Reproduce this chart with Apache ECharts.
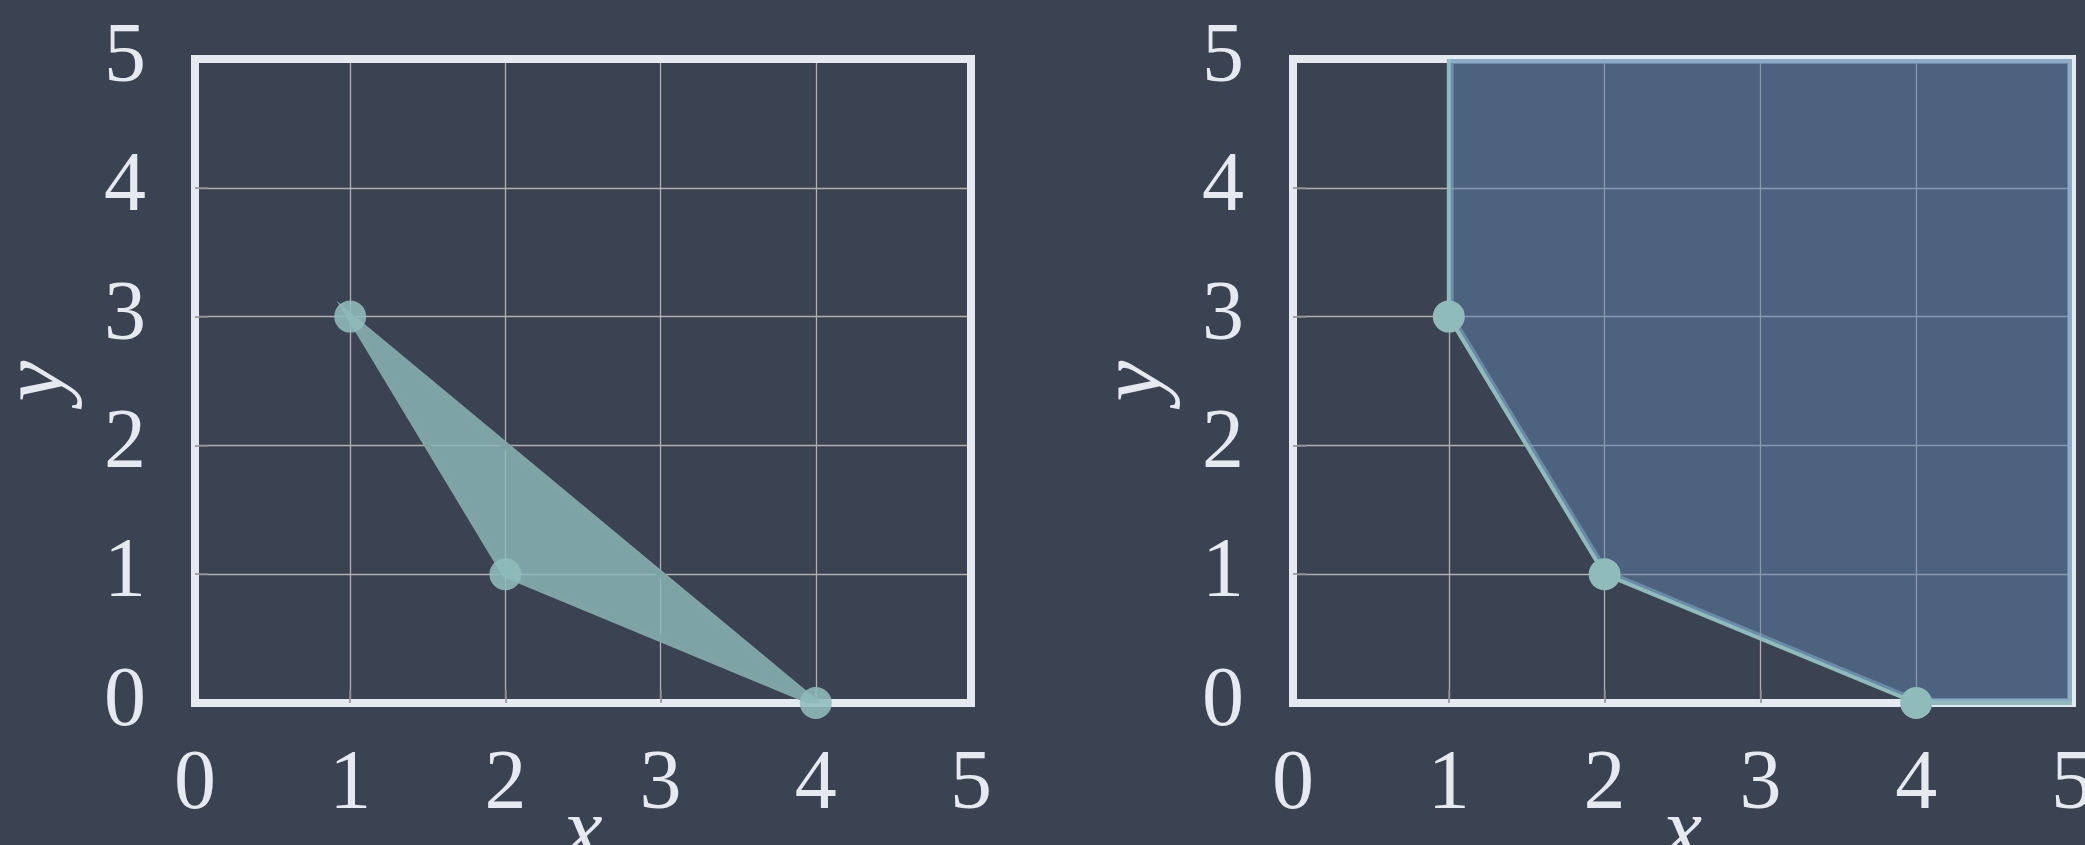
<!DOCTYPE html>
<html>
<head>
<meta charset="utf-8">
<script src="https://cdn.jsdelivr.net/npm/echarts@6/dist/echarts.min.js"></script>
<style>
html,body{margin:0;padding:0;background:#3b4252;}
#chart{width:2085px;height:845px;}
</style>
</head>
<body>
<div id="chart"></div>
<script>
// ---- data ----
const axisMin = 0;
const axisMax = 5;
const tickStep = 1;
const innerTicks = [1, 2, 3, 4];
const xAxisName = 'x';
const yAxisName = 'y';
// left panel: filled triangle through the three points
const leftPolyX = [1, 2, 4];
const leftPolyY = [3, 1, 0];
// points (both panels)
const pointX = [1, 2, 4];
const pointY = [3, 1, 0];
// right panel: feasible region (upper-right of the hull)
const regionX = [1, 1, 2, 4, 5, 5];
const regionY = [5, 3, 1, 0, 0, 5];
// right panel: boundary line
const boundaryX = [1, 1, 2, 4, 5];
const boundaryY = [5, 3, 1, 0, 0];

// ---- style ----
const BG = '#3b4252';
const FRAME = '#e5e9f0';
const GRIDC = '#b0b0b0';
const TEAL = '#8fbcbb';
const FONT = 'Liberation Serif';

const pairs = (xs, ys) => xs.map((x, i) => [x, ys[i]]);

function frameAxis(kind, gridIndex, position) {
  return {
    type: 'value', gridIndex, position, min: axisMin, max: axisMax, interval: tickStep,
    axisLine: { show: true, onZero: false, lineStyle: { color: FRAME, width: 8, cap: 'square' } },
    axisTick: { show: false }, axisLabel: { show: false }, splitLine: { show: false }
  };
}
function mainX(gridIndex) {
  return {
    type: 'value', gridIndex, position: 'bottom', min: axisMin, max: axisMax, interval: tickStep,
    name: xAxisName, nameLocation: 'middle', nameGap: 88, nameMoveOverlap: false,
    nameTextStyle: { fontFamily: FONT, fontStyle: 'italic', fontSize: 88, color: FRAME, verticalAlign: 'top' },
    axisLine: { show: true, onZero: false, lineStyle: { color: FRAME, width: 8, cap: 'square' } },
    axisTick: { show: true, inside: true, length: 13, customValues: innerTicks, lineStyle: { color: '#8a8a8a', width: 1.5 } },
    axisLabel: { show: true, margin: 41, fontFamily: FONT, fontSize: 84, color: FRAME },
    splitLine: { show: true, lineStyle: { color: GRIDC, width: 1.3 } }
  };
}
function mainY(gridIndex) {
  return {
    type: 'value', gridIndex, position: 'left', min: axisMin, max: axisMax, interval: tickStep,
    name: yAxisName, nameLocation: 'middle', nameGap: 110, nameMoveOverlap: false,
    nameTextStyle: { fontFamily: FONT, fontStyle: 'italic', fontSize: 92, color: FRAME },
    axisLine: { show: true, onZero: false, lineStyle: { color: FRAME, width: 8, cap: 'square' } },
    axisTick: { show: true, inside: true, length: 13, customValues: innerTicks, lineStyle: { color: '#8a8a8a', width: 1.5 } },
    axisLabel: { show: true, margin: 49, fontFamily: FONT, fontSize: 84, color: FRAME },
    splitLine: { show: true, lineStyle: { color: GRIDC, width: 1.3 } }
  };
}

function polygonSeries(name, xi, yi, xs, ys, fillStyle, innerStroke, clip) {
  return {
    type: 'custom', name, xAxisIndex: xi, yAxisIndex: yi, z: 2, clip: !!clip,
    data: pairs(xs, ys),
    encode: { x: 0, y: 1 },
    renderItem: function (params, api) {
      if (params.dataIndex !== 0) return null;
      const pts = xs.map((x, i) => api.coord([x, ys[i]]));
      const children = [{ type: 'polygon', shape: { points: pts }, style: fillStyle }];
      if (innerStroke) {
        children.push({
          type: 'polygon', shape: { points: pts },
          style: Object.assign({ fill: null }, innerStroke),
          clipPath: { type: 'polygon', shape: { points: pts } }
        });
      }
      return { type: 'group', children };
    }
  };
}

const chart = echarts.init(document.getElementById('chart'), null, { renderer: 'canvas' });
chart.setOption({
  backgroundColor: BG,
  animation: false,
  grid: [
    { left: 195, top: 59, width: 776, height: 644, containLabel: false, outerBoundsMode: 'none' },
    { left: 1293, top: 59, width: 779, height: 644, containLabel: false, outerBoundsMode: 'none' }
  ],
  xAxis: [mainX(0), frameAxis('x', 0, 'top'), mainX(1), frameAxis('x', 1, 'top')],
  yAxis: [mainY(0), frameAxis('y', 0, 'right'), mainY(1), frameAxis('y', 1, 'right')],
  series: [
    // left panel
    polygonSeries('hull', 0, 0, leftPolyX, leftPolyY, {
      fill: 'rgba(143,188,187,0.8)', stroke: '#7ea4a6', lineWidth: 7, lineJoin: 'miter', miterLimit: 30
    }, null, true),
    {
      type: 'scatter', name: 'points', xAxisIndex: 0, yAxisIndex: 0, z: 3,
      data: pairs(pointX, pointY), symbolSize: 32,
      itemStyle: { color: TEAL, opacity: 0.88 }
    },
    // right panel
    polygonSeries('region', 2, 2, regionX, regionY,
      { fill: 'rgba(94,129,172,0.5)' },
      { stroke: 'rgba(125,165,195,0.6)', lineWidth: 10, lineJoin: 'miter' }, false),
    {
      type: 'line', name: 'boundary', xAxisIndex: 2, yAxisIndex: 2, z: 3,
      data: pairs(boundaryX, boundaryY), showSymbol: false, symbol: 'none',
      lineStyle: { color: TEAL, width: 4 }
    },
    {
      type: 'scatter', name: 'points2', xAxisIndex: 2, yAxisIndex: 2, z: 4,
      data: pairs(pointX, pointY), symbolSize: 32,
      itemStyle: { color: TEAL, opacity: 1 }
    }
  ]
});
</script>
</body>
</html>
